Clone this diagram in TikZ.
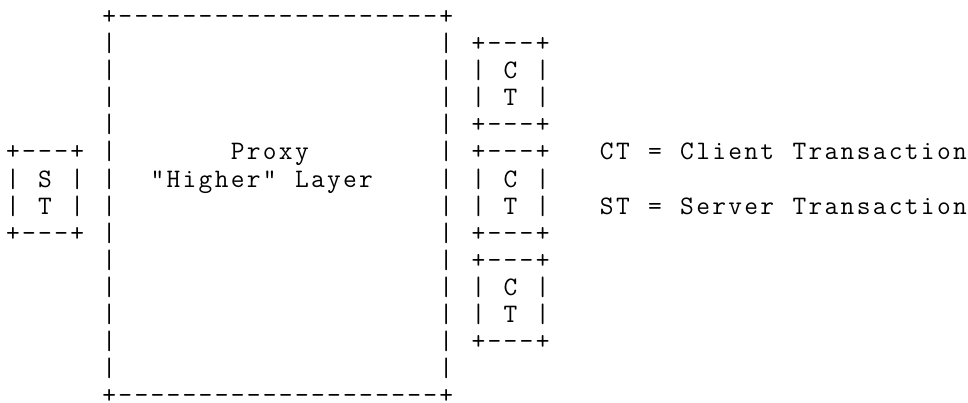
\documentclass[tikz,border=0pt]{standalone}
\usepackage{fontspec}
\usetikzlibrary{positioning}

\newcommand\asciifont{\fontsize{20pt}{20pt}\selectfont\ttfamily}
\newcount\cellcol
\def\cellrow{0}

% one character per cell
\tikzset{ch/.style={inner sep=0pt, anchor=base, font=\asciifont}}

% \asciibox{name}{col}{row}{inner width}{inner height}
\newcommand\asciibox[5]{%
    \foreach \i in {1,...,#4} {
        \node[ch] (#1-t\i) at (#2+\i,-#3) {-};
        \node[ch] (#1-b\i) at (#2+\i,-#3-#5-1) {-};
    }
    \foreach \j in {1,...,#5} {
        \node[ch] (#1-l\j) at (#2,-#3-\j) {|};
        \node[ch] (#1-r\j) at (#2+#4+1,-#3-\j) {|};
    }
    \node[ch] (#1-nw) at (#2,-#3) {+};
    \node[ch] (#1-ne) at (#2+#4+1,-#3) {+};
    \node[ch] (#1-sw) at (#2,-#3-#5-1) {+};
    \node[ch] (#1-se) at (#2+#4+1,-#3-#5-1) {+};
    \coordinate (#1) at (#2+#4/2+0.5,-#3-#5/2-0.5);
}

% \asciitext{name}{col}{row}{chars, ~ for a space}
\newcommand\asciitext[4]{%
    \global\cellcol=#2\relax
    \pgfmathtruncatemacro\cellrow{#3}%
    \def\cellname{#1}%
    \asciitextA#4\relax
}
\def\asciitextA#1{\ifx#1\relax\else\asciicell{#1}\expandafter\asciitextA\fi}
\def\asciicell#1{%
    \ifx#1~\else\node[ch] (\cellname-\the\cellcol) at (\the\cellcol,-\cellrow) {#1};\fi
    \global\advance\cellcol by 1\relax
}

\begin{document}
\begin{tikzpicture}[x=12.0375pt, y=20.30pt]
    \useasboundingbox (-9.75pt,18.5pt) rectangle (716.25pt,-283.75pt);

    % proxy core
    \asciibox{proxy}{6}{0}{20}{13}
    \asciitext{proxyname}{14}{5}{Proxy}
    \asciitext{proxylayer}{9}{6}{"Higher"~Layer}

    % server transaction
    \asciibox{st}{0}{5}{3}{2}
    \asciitext{stS}{2}{6}{S}
    \asciitext{stT}{2}{7}{T}

    % client transactions
    \foreach \r [count=\k] in {1,5,9} {
        \asciibox{ct\k}{29}{\r}{3}{2}
        \asciitext{ct\k C}{31}{\r+1}{C}
        \asciitext{ct\k T}{31}{\r+2}{T}
    }

    % legend
    \asciitext{legendCT}{37}{5}{CT~=~Client~Transaction}
    \asciitext{legendST}{37}{7}{ST~=~Server~Transaction}
\end{tikzpicture}
\end{document}
